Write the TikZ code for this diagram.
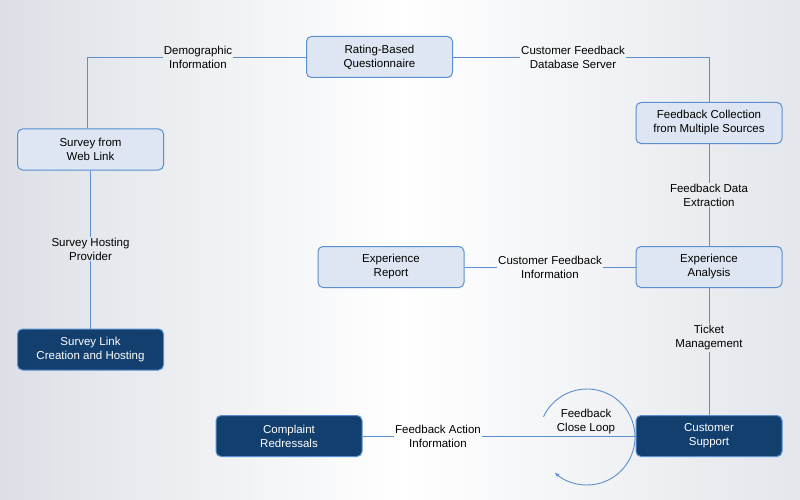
\documentclass[tikz,border=0pt]{standalone}
\usepackage{fontspec}
\setmainfont{Liberation Sans}
\usetikzlibrary{arrows.meta}
\definecolor{ln}{HTML}{5B8FD0}
\definecolor{lf}{HTML}{DDE6F2}
\definecolor{df}{HTML}{123F6E}
\definecolor{bg}{HTML}{DCE0E6}
\begin{document}
\begin{tikzpicture}[x=1pt,y=-1pt,
 lbox/.style={draw=ln,line width=1pt,fill=lf,rounded corners=5pt,minimum width=146pt,minimum height=41pt,align=center,font=\fontsize{11.5}{14}\selectfont},
 dbox/.style={lbox,fill=df,text=white},
 lab/.style={align=center,font=\fontsize{11.5}{14}\selectfont,inner sep=1pt},
 con/.style={draw=ln,line width=0.9pt}]
\shade[left color=bg,right color=bg!80,middle color=white] (0,0) rectangle (800,500);
\useasboundingbox (0,0) rectangle (800,500);
\node[lbox] (rq) at (379.5,57) {Rating-Based\\Questionnaire};
\node[lbox] (fc) at (709,123) {Feedback Collection\\from Multiple Sources};
\node[lbox] (sw) at (90.5,149.5) {Survey from\\Web Link};
\node[dbox] (sl) at (90.5,349.5) {Survey Link\\Creation and Hosting};
\node[lbox] (er) at (391,267) {Experience\\Report};
\node[lbox] (ea) at (709,267) {Experience\\Analysis};
\node[dbox] (cr) at (289,436) {Complaint\\Redressals};
\node[dbox] (cs) at (709,436) {Customer\\Support};
\node[lab] (l1) at (198,57) {Demographic\\Information};
\node[lab] (l2) at (573,57) {Customer Feedback\\Database Server};
\node[lab] (l3) at (709,195) {Feedback Data\\Extraction};
\node[lab] (l4) at (90.5,249) {Survey Hosting\\Provider};
\node[lab] (l5) at (550,267) {Customer Feedback\\Information};
\node[lab] (l6) at (709,338) {Ticket\\Management};
\node[lab] (l7) at (438,436) {Feedback Action\\Information};
\node[lab] (l8) at (586,422) {Feedback\\Close Loop};
\coordinate (c1) at (87,57);
\coordinate (c2) at (709,57);
\draw[con] (sw.north -| c1) -- (c1) -- (l1.west);
\draw[con] (l1.east) -- (rq.west);
\draw[con] (rq.east) -- (l2.west);
\draw[con] (l2.east) -- (c2) -- (fc.north);
\draw[con] (fc.south) -- (l3.north);
\draw[con] (l3.south) -- (ea.north);
\draw[con] (sw.south) -- (l4.north);
\draw[con] (l4.south) -- (sl.north);
\draw[con] (ea.west) -- (l5.east);
\draw[con] (l5.west) -- (er.east);
\draw[con] (ea.south) -- (l6.north);
\draw[con] (l6.south) -- (cs.north);
\draw[con] (cs.west) -- (l7.east);
\draw[con] (l7.west) -- (cr.east);
\coordinate (lc) at (587,437);
\draw[con,-{Stealth[length=5pt]}] ([shift={(205:48)}]lc) arc[start angle=205,end angle=492,radius=48];
\end{tikzpicture}
\end{document}
